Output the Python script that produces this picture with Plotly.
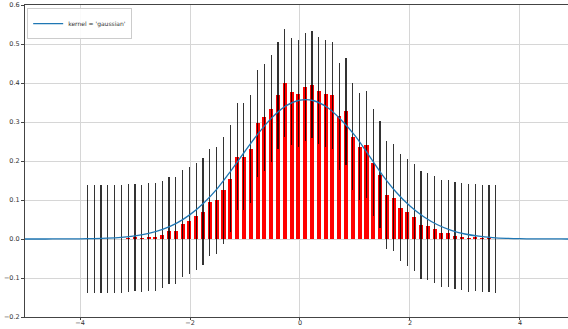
import plotly.graph_objects as go

# Histogram bin centres and bar heights (density)
bin_centers = [
    -3.867, -3.743, -3.619, -3.496, -3.372, -3.248, -3.124, -3.000, -2.877, -2.753,
    -2.629, -2.505, -2.381, -2.258, -2.134, -2.010, -1.886, -1.762, -1.639, -1.515,
    -1.391, -1.267, -1.143, -1.020, -0.896, -0.772, -0.648, -0.524, -0.401, -0.277,
    -0.153, -0.029, 0.095, 0.218, 0.342, 0.466, 0.590, 0.714, 0.837, 0.961,
    1.085, 1.209, 1.333, 1.456, 1.580, 1.704, 1.828, 1.952, 2.075, 2.199,
    2.323, 2.447, 2.571, 2.694, 2.818, 2.942, 3.066, 3.190, 3.313, 3.437,
    3.561,
]
density = [
    0.0, 0.0, 0.0, 0.0, 0.0, 0.0, 0.0025, 0.003, 0.001, 0.005,
    0.005, 0.011, 0.021, 0.021, 0.039, 0.047, 0.058, 0.070, 0.094, 0.099,
    0.125, 0.155, 0.211, 0.211, 0.231, 0.297, 0.312, 0.334, 0.368, 0.400,
    0.378, 0.373, 0.390, 0.396, 0.380, 0.373, 0.368, 0.315, 0.327, 0.262,
    0.237, 0.242, 0.196, 0.165, 0.113, 0.106, 0.080, 0.068, 0.056, 0.036,
    0.033, 0.025, 0.0145, 0.0145, 0.0085, 0.006, 0.0025, 0.004, 0.001, 0.001,
    0.0,
]
error_size = 0.1375

# Gaussian KDE curve
kde_x = [
    -5.00, -4.75, -4.50, -4.25, -4.00, -3.75, -3.50, -3.25, -3.00, -2.75,
    -2.50, -2.25, -2.00, -1.75, -1.50, -1.25, -1.00, -0.75, -0.50, -0.25,
    0.00, 0.25, 0.50, 0.75, 1.00, 1.25, 1.50, 1.75, 2.00, 2.25,
    2.50, 2.75, 3.00, 3.25, 3.50, 3.75, 4.00, 4.25, 4.50, 4.75,
    5.00,
]
kde_y = [
    0.0000, 0.0000, 0.0001, 0.0002, 0.0005, 0.0011, 0.0022, 0.0043, 0.0080, 0.0142,
    0.0245, 0.0400, 0.0625, 0.0925, 0.1300, 0.1760, 0.2250, 0.2720, 0.3125, 0.3420,
    0.3560, 0.3545, 0.3370, 0.3050, 0.2650, 0.2150, 0.1640, 0.1200, 0.0845, 0.0570,
    0.0365, 0.0222, 0.0128, 0.0071, 0.0037, 0.0018, 0.0008, 0.0004, 0.0002, 0.0001,
    0.0000,
]
legend_label = "kernel = 'gaussian'"

x_ticks = [-4, -2, 0, 2, 4]
x_tick_labels = ["\u22124", "\u22122", "0", "2", "4"]
y_ticks = [-0.2, -0.1, 0.0, 0.1, 0.2, 0.3, 0.4, 0.5, 0.6]
y_tick_labels = ["\u22120.2", "\u22120.1", "0.0", "0.1", "0.2", "0.3", "0.4", "0.5", "0.6"]

fig = go.Figure()
fig.add_trace(go.Bar(
    x=bin_centers, y=density, width=0.074,
    marker=dict(color="#ff0000", line=dict(width=0)),
    error_y=dict(type="constant", value=error_size, color="rgba(0,0,0,0.8)",
                 thickness=1.2, width=0),
    showlegend=False,
))
fig.add_trace(go.Scatter(
    x=kde_x, y=kde_y, mode="lines", name=legend_label,
    line=dict(color="#1f77b4", width=1.3, shape="spline"),
))

axis_font = dict(family="DejaVu Sans", size=6.5, color="#333333")
fig.update_layout(
    width=568, height=329,
    margin=dict(l=25, r=0, t=5, b=12),
    paper_bgcolor="white", plot_bgcolor="white",
    font=dict(family="DejaVu Sans", size=7, color="#333333"),
    bargap=0,
    showlegend=True,
    legend=dict(
        x=0.004, y=0.99, xanchor="left", yanchor="top",
        bgcolor="rgba(255,255,255,0.9)", bordercolor="#cccccc", borderwidth=1,
        font=dict(family="DejaVu Sans", size=6, color="#333333"),
        itemwidth=30, tracegroupgap=0,
    ),
    xaxis=dict(
        range=[-5, 4.873], tickvals=x_ticks, ticktext=x_tick_labels,
        showgrid=True, gridcolor="#d6d6d6", gridwidth=1,
        showline=True, linecolor="#444444", linewidth=1, mirror=True,
        ticks="outside", ticklen=2, tickcolor="#444444", tickfont=axis_font,
        ticklabelstandoff=-3,
        zeroline=False, automargin=False,
    ),
    yaxis=dict(
        range=[-0.2, 0.6], tickvals=y_ticks, ticktext=y_tick_labels,
        showgrid=True, gridcolor="#d6d6d6", gridwidth=1,
        showline=True, linecolor="#444444", linewidth=1, mirror=False,
        ticks="outside", ticklen=3, tickcolor="#444444", tickfont=axis_font,
        zeroline=False, automargin=False,
    ),
)

fig.write_html(
    "out.html",
    config={"displayModeBar": False},
    post_script="document.body.style.margin='0';",
)
